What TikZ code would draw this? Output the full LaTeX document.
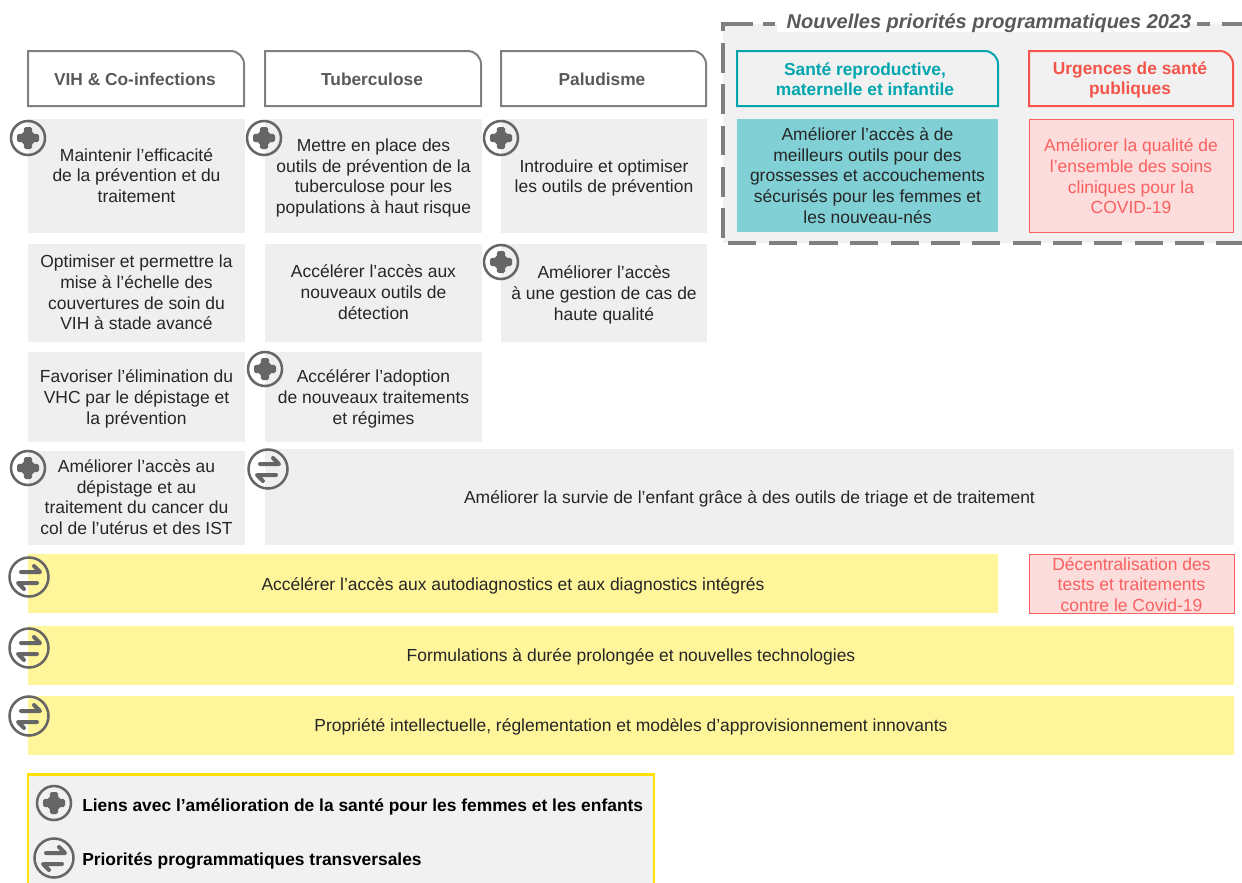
\documentclass[tikz,border=0pt]{standalone}
\usepackage{fontspec}
\setmainfont{Liberation Sans}
\definecolor{cellgrey}{HTML}{EFEFEF}
\definecolor{iconGrey}{HTML}{666666}
\definecolor{headGrey}{HTML}{7F7F7F}
\definecolor{headText}{HTML}{595959}
\definecolor{tealC}{HTML}{00A5AD}
\definecolor{tealF}{HTML}{80D0D6}
\definecolor{redC}{HTML}{F4544A}
\definecolor{pinkF}{HTML}{FDDCDC}
\definecolor{pinkT}{HTML}{FB6060}
\definecolor{yelF}{HTML}{FFF59B}
\definecolor{yelC}{HTML}{FFE000}
\definecolor{panelF}{HTML}{F1F1F1}
\tikzset{
  x=0.75pt,y=-0.75pt,
  body/.style={font=\fontsize{13.1}{15.5}\selectfont,align=center,inner sep=0pt,outer sep=0pt,text=black!85},
  cell/.style={body,fill=cellgrey},
  yellowcell/.style={body,fill=yelF},
  tealcell/.style={body,fill=tealF},
  pinkcell/.style={body,fill=pinkF,draw=pinkT,line width=0.6pt,text=pinkT},
  headtext/.style={font=\fontsize{13}{15.2}\selectfont\bfseries,align=center,inner sep=0pt},
  headframe/.style={line width=1.5pt,fill=none},
  legendtext/.style={font=\fontsize{13.05}{15.2}\selectfont\bfseries,anchor=west,inner sep=0pt,text=black},
  paneldash/.style={headGrey,line width=2.4pt},
  pics/plusicon/.style={code={
    \draw[iconGrey,line width=1.9pt] (0,0) circle (17);
    \fill[iconGrey,rounded corners=1.4pt] (-4.2,-11) -- (4.2,-11) -- (4.2,-4.2) -- (11,-4.2) -- (11,4.2) -- (4.2,4.2) -- (4.2,11) -- (-4.2,11) -- (-4.2,4.2) -- (-11,4.2) -- (-11,-4.2) -- (-4.2,-4.2) -- cycle;
  }},
  pics/swapicon/.style={code={
    \draw[iconGrey,line width=1.9pt] (0,0) circle (19.5);
    \draw[iconGrey,line width=3pt,line cap=round,line join=round] (-8,-5) -- (11,-5) -- (5,-11);
    \draw[iconGrey,line width=3pt,line cap=round,line join=round] (8,6) -- (-11,6) -- (-5,12);
  }}
}
\newcommand{\boxat}[8]{%
  \node[#6,minimum width={(#4-#2)*0.75pt},minimum height={(#5-#3)*0.75pt}] (#1) at ({(#2+#4)/2},{(#3+#5)/2}) {};
  \node[#6,fill=none,draw=none,yshift=#7pt] (#1t) at (#1.center) {#8};}
\begin{document}
\begin{tikzpicture}
\useasboundingbox (0,0) rectangle (1242,882);
\clip (0,0) rectangle (1242,882);
% dashed panel
\fill[panelF] (723,24) rectangle (1250,243);
\draw[paneldash] (723,31) -- (723,24) -- (753,24) (763,24) -- (775,24) (1197,24) -- (1210,24) (1222,24) -- (1250,24);
\draw[paneldash,dash pattern=on 22.3pt off 8.7pt] (723,43) -- (723,239);
\draw[paneldash,dash pattern=on 21.3pt off 9.2pt] (728,243) -- (1250,243);
\node[fill=white,minimum width=309pt,minimum height=15pt,inner sep=0pt] (titleback) at (983,22) {};
\node[font=\fontsize{15}{17}\selectfont\bfseries\itshape,text=headText,inner sep=0pt] (title) at (989,23) {Nouvelles priorités programmatiques 2023};
% column headers
\draw[headframe,draw=headGrey] (28,106) -- (28,51) [rounded corners=10pt] -- (244,51) [sharp corners] -- (244,106) -- cycle;
\node[headtext,text=headText] (h1) at (135,79) {VIH \& Co-infections};
\draw[headframe,draw=headGrey] (265,106) -- (265,51) [rounded corners=10pt] -- (481,51) [sharp corners] -- (481,106) -- cycle;
\node[headtext,text=headText] (h2) at (372,79) {Tuberculose};
\draw[headframe,draw=headGrey] (501,106) -- (501,51) [rounded corners=10pt] -- (706,51) [sharp corners] -- (706,106) -- cycle;
\node[headtext,text=headText] (h3) at (602,79) {Paludisme};
\draw[headframe,draw=tealC] (737,106) -- (737,51) [rounded corners=10pt] -- (998,51) [sharp corners] -- (998,106) -- cycle;
\node[headtext,text=tealC] (h4) at (865,79) {Santé reproductive,\\maternelle et infantile};
\draw[headframe,draw=redC] (1029,106) -- (1029,51) [rounded corners=10pt] -- (1233,51) [sharp corners] -- (1233,106) -- cycle;
\node[headtext,text=redC] (h5) at (1130,80) {Urgences de santé\\publiques};
% row 1
\boxat{a1}{28}{119}{245}{233}{cell}{0.4}{Maintenir l’efficacité\\de la prévention et du\\traitement}
\boxat{b1}{265}{119}{482}{233}{cell}{-1.5}{Mettre en place des\\outils de prévention de la\\tuberculose pour les\\populations à haut risque}
\boxat{c1}{501}{119}{707}{233}{cell}{-1.5}{Introduire et optimiser\\les outils de prévention}
\boxat{d1}{737}{119}{998}{232}{tealcell}{0}{Améliorer l’accès à de\\meilleurs outils pour des\\grossesses et accouchements\\sécurisés pour les femmes et\\les nouveau-nés}
\boxat{e1}{1029}{119}{1233}{232}{pinkcell}{-0.75}{Améliorer la qualité de\\l’ensemble des soins\\cliniques pour la\\COVID-19}
% row 2
\boxat{a2}{28}{244}{245}{342}{cell}{0.4}{Optimiser et permettre la\\mise à l’échelle des\\couvertures de soin du\\VIH à stade avancé}
\boxat{b2}{265}{244}{482}{342}{cell}{0.7}{Accélérer l’accès aux\\nouveaux outils de\\détection}
\boxat{c2}{501}{244}{707}{342}{cell}{-1.5}{Améliorer l’accès\\à une gestion de cas de\\haute qualité}
% row 3
\boxat{a3}{28}{352}{245}{442}{cell}{-1.5}{Favoriser l’élimination du\\VHC par le dépistage et\\la prévention}
\boxat{b3}{265}{352}{482}{442}{cell}{-1.5}{Accélérer l’adoption\\de nouveaux traitements\\et régimes}
% row 4
\boxat{a4}{28}{451}{245}{545}{cell}{0.7}{Améliorer l’accès au\\dépistage et au\\traitement du cancer du\\col de l’utérus et des IST}
\boxat{b4}{265}{449}{1234}{545}{cell}{-1.5}{Améliorer la survie de l’enfant grâce à des outils de triage et de traitement}
% yellow bands
\boxat{y1}{28}{554}{998}{613}{yellowcell}{-1.5}{Accélérer l’accès aux autodiagnostics et aux diagnostics intégrés}
\boxat{p1}{1029}{554}{1234}{613}{pinkcell}{-0.75}{Décentralisation des\\tests et traitements\\contre le Covid-19}
\boxat{y2}{28}{626}{1234}{685}{yellowcell}{-0.75}{Formulations à durée prolongée et nouvelles technologies}
\boxat{y3}{28}{696}{1234}{755}{yellowcell}{-0.75}{Propriété intellectuelle, réglementation et modèles d’approvisionnement innovants}
% legend
\fill[panelF,draw=yelC,line width=1.6pt] (28,774.5) rectangle (654,890);
\node[legendtext] (l1) at (82,807) {Liens avec l’amélioration de la santé pour les femmes et les enfants};
\node[legendtext] (l2) at (82,861) {Priorités programmatiques transversales};
% icons
\foreach \px/\py in {28/138,264/138,501/138,501/262,265/369,28/468,54/803}
  \pic at (\px,\py) {plusicon};
\foreach \px/\py in {268/469,29/577,29/648,29/716,54/858}
  \pic at (\px,\py) {swapicon};
\end{tikzpicture}
\end{document}
